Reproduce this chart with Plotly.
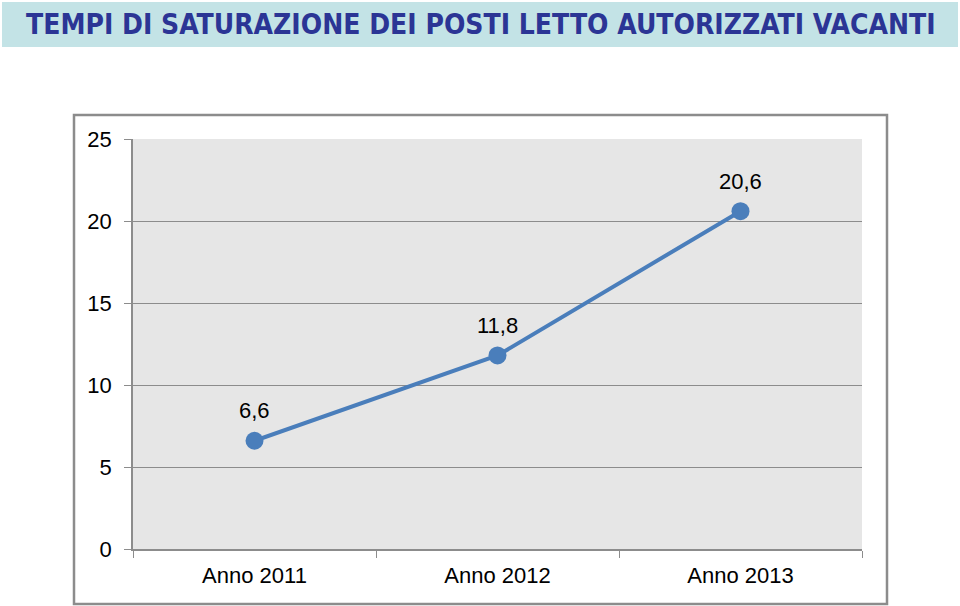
import plotly.graph_objects as go

categories = ["Anno 2011", "Anno 2012", "Anno 2013"]
values = [6.6, 11.8, 20.6]
y_ticks = [0, 5, 10, 15, 20, 25]
title_text = "TEMPI DI SATURAZIONE DEI POSTI LETTO AUTORIZZATI VACANTI"

W, H = 960, 606
L, R, T, B = 133, 862, 139, 549
pw, ph = R - L, B - T

def px(x):
    return (x - L) / pw

def py(y):
    return (B - y) / ph

fig = go.Figure()
fig.add_trace(go.Scatter(
    x=categories, y=values,
    mode="lines+markers",
    line=dict(color="#4a7ebb", width=4),
    marker=dict(color="#4a7ebb", size=18),
    cliponaxis=False,
    hoverinfo="skip",
))

annotations = [
    dict(text=f"{v:.1f}".replace(".", ","), x=c, y=v, xref="x", yref="y",
         yshift=30, showarrow=False, xanchor="center", yanchor="middle",
         font=dict(family="Liberation Sans, Arial", size=22, color="#000000"))
    for c, v in zip(categories, values)
]
annotations.append(
    dict(text="<b>" + title_text + "</b>", xref="paper", yref="paper",
         x=px(481), y=py(25), xanchor="center", yanchor="middle",
         showarrow=False,
         font=dict(family="DejaVu Sans Condensed, Liberation Sans Narrow, Arial Narrow",
                   size=28, color="#2b3595"))
)

fig.update_layout(
    width=W, height=H,
    margin=dict(l=L, r=W - R, t=T, b=H - B),
    paper_bgcolor="#ffffff",
    plot_bgcolor="#e6e6e6",
    separators=",.",
    showlegend=False,
    font=dict(family="Liberation Sans, Arial", size=22, color="#000000"),
    xaxis=dict(
        type="category", range=[-0.5, 2.5],
        showline=True, linecolor="#8c8c8c", linewidth=1.5,
        ticks="outside", tickson="boundaries", ticklen=7, tickcolor="#8c8c8c",
        showgrid=False, tickfont=dict(size=22), fixedrange=True,
        ticklabelstandoff=6,
    ),
    yaxis=dict(
        range=[0, 25], tickvals=y_ticks,
        showline=True, linecolor="#8c8c8c", linewidth=1.5,
        ticks="outside", ticklen=7, tickcolor="#8c8c8c",
        showgrid=True, gridcolor="#8c8c8c", gridwidth=1.2,
        zeroline=False, tickfont=dict(size=22), ticklabelstandoff=8,
    ),
    shapes=[
        dict(type="rect", xref="paper", yref="paper",
             x0=px(2), x1=px(958), y0=py(47), y1=py(2),
             fillcolor="#c3e3e6", line=dict(width=0), layer="below"),
        dict(type="rect", xref="paper", yref="paper",
             x0=px(74), x1=px(887), y0=py(604), y1=py(115),
             fillcolor="rgba(0,0,0,0)", line=dict(color="#8c8c8c", width=2.5)),
    ],
    annotations=annotations,
)

fig.write_html("out.html", config={"displayModeBar": False},
               post_script="document.body.style.margin='0';")
